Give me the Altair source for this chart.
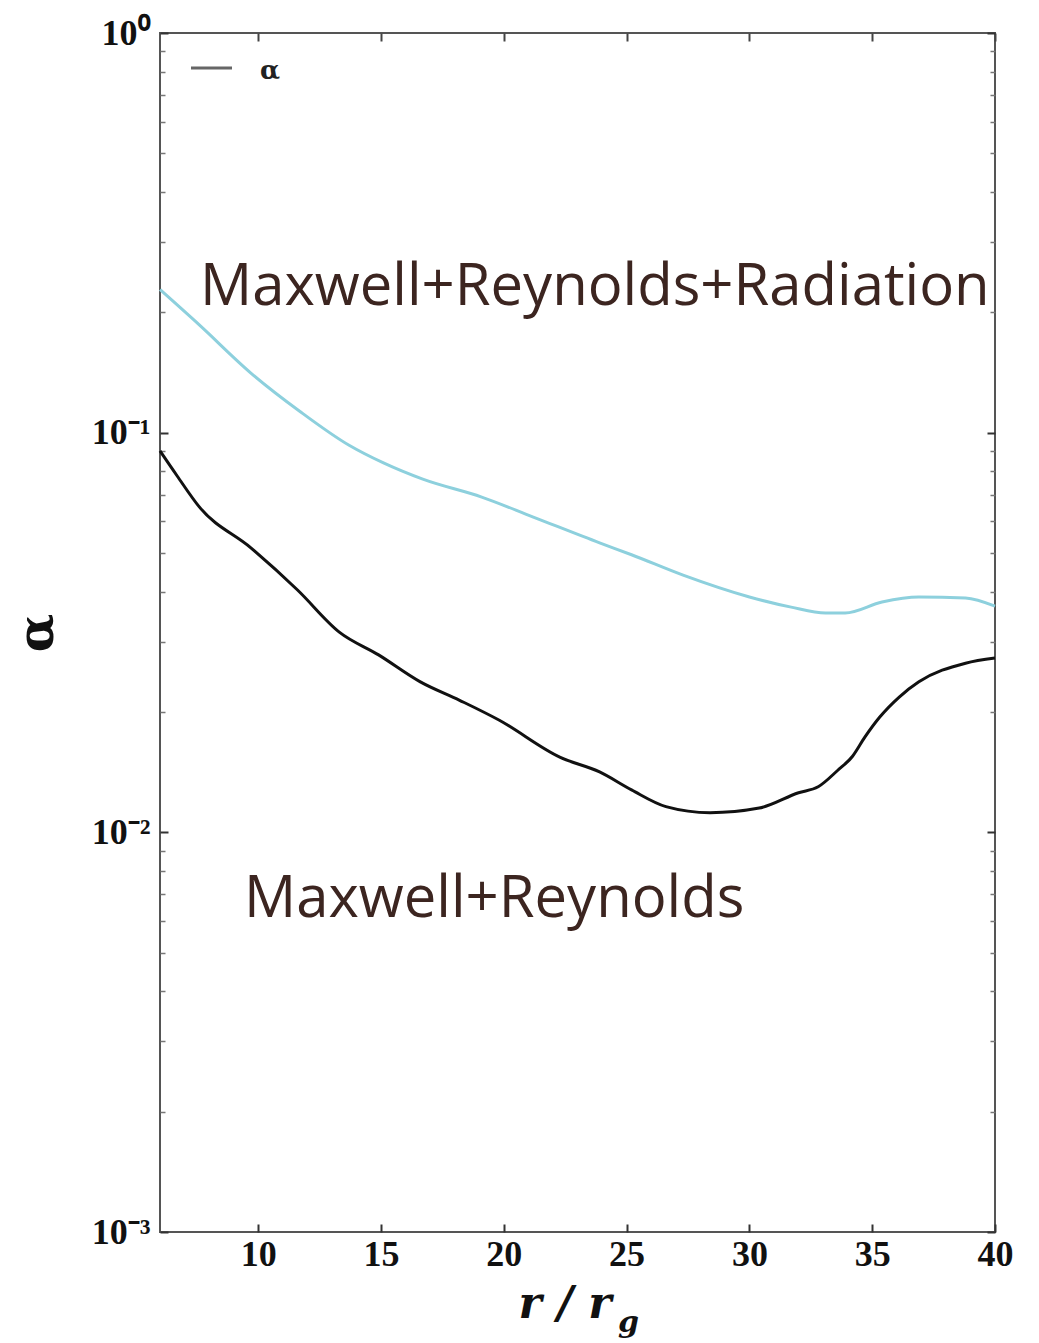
import altair as alt
import pandas as pd

# Maxwell + Reynolds + Radiation stress (alpha vs r/r_g)
r_rad = [6.0, 7.6, 9.7, 11.7, 13.7, 15.1, 16.7, 19.1, 21.2, 23.9, 25.2, 27.3,
         30.0, 31.7, 33.1, 33.9, 35.4, 36.9, 38.8, 40.0]
a_rad = [0.228, 0.186, 0.141, 0.113, 0.093, 0.084, 0.0765, 0.069, 0.0615, 0.053,
         0.0495, 0.044, 0.0388, 0.0366, 0.0354, 0.0354, 0.0377, 0.0388, 0.0386, 0.0368]

# Maxwell + Reynolds stress only
r_mr = [6.0, 6.7, 7.6, 9.7, 11.6, 13.3, 14.9, 16.6, 18.2, 19.8, 22.3, 23.9, 25.2,
        26.6, 28.4, 30.4, 32.0, 32.8, 33.6, 34.2, 34.7, 35.3, 36.1, 36.9, 38.8, 40.0]
a_mr = [0.090, 0.0779, 0.0652, 0.0515, 0.0404, 0.0317, 0.0278, 0.0238, 0.0214, 0.0191,
        0.0154, 0.01416, 0.01277, 0.0116, 0.0112, 0.0115, 0.01256, 0.0130, 0.0143,
        0.0155, 0.0173, 0.0194, 0.0218, 0.0238, 0.0265, 0.0273]

x_ticks = [10, 15, 20, 25, 30, 35, 40]
y_ticks = [0.001, 0.01, 0.1, 1.0]
y_tick_labels = ["10⁻³", "10⁻²", "10⁻¹", "10⁰"]
y_minor = [m * d for d in [0.001, 0.01, 0.1] for m in range(2, 10)]

annotations = ["Maxwell+Reynolds+Radiation", "Maxwell+Reynolds"]
legend_label = ["α"]
y_title = ["α"]
x_title = ["r / r", "g"]

rad_df = pd.DataFrame({"r": r_rad, "alpha": a_rad})
mr_df = pd.DataFrame({"r": r_mr, "alpha": a_mr})

W, H = 835, 1199
x_scale = alt.Scale(domain=[6, 40], nice=False, zero=False)
y_scale = alt.Scale(type="log", domain=[0.001, 1], nice=False)

label_expr = "''"
for v, lab in zip(y_ticks, y_tick_labels):
    label_expr = f"abs(datum.value - {v}) < {v * 1e-6} ? '{lab}' : ({label_expr})"

TICK_FONT = "Liberation Serif"
common = dict(domain=False, grid=False, title=None, labelFlush=False, labelOverlap=False)

bottom_axis = alt.Axis(orient="bottom", values=x_ticks, format="d", offset=-8, tickSize=8,
                       tickWidth=2, tickColor="#333", labelFont=TICK_FONT, labelFontSize=36,
                       labelFontWeight="bold", labelColor="#111", labelPadding=5, **common)
top_axis = alt.Axis(orient="top", values=x_ticks, offset=-8, tickSize=8, tickWidth=2,
                    tickColor="#444", labels=False, **common)
left_axis = alt.Axis(orient="left", values=y_ticks, labelExpr=label_expr, offset=-8, tickSize=8,
                     tickWidth=2, tickColor="#333", labelFont=TICK_FONT, labelFontSize=36,
                     labelFontWeight="bold", labelColor="#111", labelPadding=10, **common)
right_axis = alt.Axis(orient="right", values=y_ticks, offset=-8, tickSize=8, tickWidth=2,
                      tickColor="#333", labels=False, **common)
left_minor = alt.Axis(orient="left", values=y_minor, offset=-5, tickSize=5, tickWidth=1.5,
                      tickColor="#777", labels=False, **common)
right_minor = alt.Axis(orient="right", values=y_minor, offset=-5, tickSize=5, tickWidth=1.5,
                       tickColor="#777", labels=False, **common)


def xenc(axis):
    return alt.X("r:Q", scale=x_scale, axis=axis)


def yenc(axis):
    return alt.Y("alpha:Q", scale=y_scale, axis=axis)


rad_line = alt.Chart(rad_df).mark_line(color="#8dd0dd", strokeWidth=3, interpolate="monotone").encode(
    x=xenc(bottom_axis), y=yenc(left_axis))
mr_line = alt.Chart(mr_df).mark_line(color="#111111", strokeWidth=3, interpolate="monotone").encode(
    x=xenc(top_axis), y=yenc(right_axis))
minor_l = alt.Chart(rad_df).mark_line(opacity=0).encode(x=xenc(None), y=yenc(left_minor))
minor_r = alt.Chart(rad_df).mark_line(opacity=0).encode(x=xenc(None), y=yenc(right_minor))

TXT = "#3c2520"
ann1 = alt.Chart(pd.DataFrame({"t": [annotations[0]]})).mark_text(
    font="Open Sans", fontSize=58, color=TXT, align="left", baseline="alphabetic"
).encode(text="t:N", x=alt.value(40), y=alt.value(272))
ann2 = alt.Chart(pd.DataFrame({"t": [annotations[1]]})).mark_text(
    font="Open Sans", fontSize=58, color=TXT, align="left", baseline="alphabetic"
).encode(text="t:N", x=alt.value(84), y=alt.value(884))

# legend
leg_line = alt.Chart(pd.DataFrame({"t": legend_label})).mark_rule(
    color="#666", strokeWidth=3).encode(x=alt.value(31), x2=alt.value(72), y=alt.value(35))
leg_text = alt.Chart(pd.DataFrame({"t": legend_label})).mark_text(
    font="DejaVu Serif", fontSize=26, fontWeight="bold", color="#222", align="left",
    baseline="alphabetic").encode(text="t:N", x=alt.value(100), y=alt.value(46))

# axis titles
ytitle = alt.Chart(pd.DataFrame({"t": y_title})).mark_text(
    font="DejaVu Serif", fontSize=50, fontWeight="bold", color="#111", angle=270,
    align="center", baseline="middle").encode(text="t:N", x=alt.value(-122), y=alt.value(600))
xtitle = alt.Chart(pd.DataFrame({"t": [x_title[0]]})).mark_text(
    font="DejaVu Serif", fontSize=44, fontWeight="bold", fontStyle="italic", color="#111",
    align="center", baseline="alphabetic").encode(text="t:N", x=alt.value(405), y=alt.value(1285))
xsub = alt.Chart(pd.DataFrame({"t": [x_title[1]]})).mark_text(
    font="DejaVu Serif", fontSize=30, fontWeight="bold", fontStyle="italic", color="#111",
    align="left", baseline="alphabetic").encode(text="t:N", x=alt.value(458), y=alt.value(1299))

chart = alt.layer(
    rad_line, mr_line, minor_l, minor_r, ann1, ann2, leg_line, leg_text, ytitle, xtitle, xsub
).resolve_axis(x="independent", y="independent").properties(
    width=W, height=H,
    padding={"left": 160, "top": 33, "right": 44, "bottom": 111},
    autosize=alt.AutoSizeParams(type="none"),
    background="white",
).configure_view(stroke="#555", strokeWidth=2)

chart.save("out.html", embed_options={"renderer": "svg", "actions": False})
